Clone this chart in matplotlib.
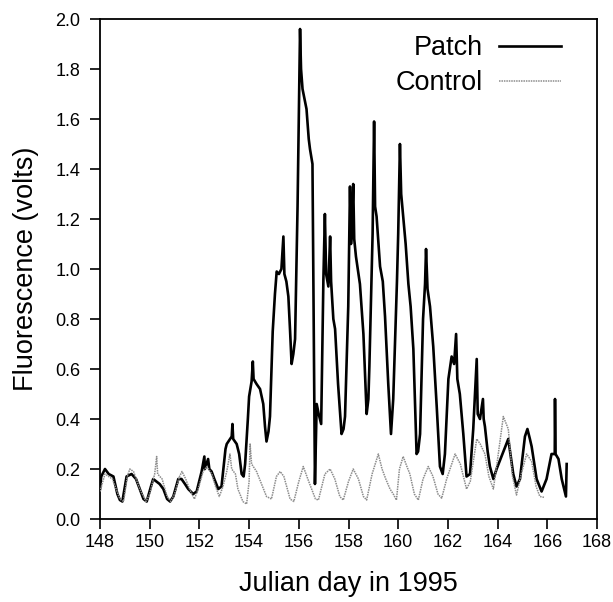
import matplotlib
matplotlib.use("Agg")
import matplotlib.pyplot as plt

plt.rcParams['font.family'] = ['Liberation Sans', 'DejaVu Sans']

# Patch series (Julian day, fluorescence volts)
patch_day = [148.00, 148.05, 148.2, 148.35, 148.54, 148.7, 148.8, 148.9, 149.07, 149.27,
             149.45, 149.6, 149.75, 149.88, 150.05, 150.14, 150.27, 150.4, 150.55, 150.7,
             150.82, 150.95, 151.15, 151.28, 151.42, 151.55, 151.75, 151.89, 152.09, 152.2,
             152.22, 152.35, 152.4, 152.49, 152.6, 152.76, 152.89, 153.05, 153.1, 153.3,
             153.33, 153.36, 153.5, 153.6, 153.7, 153.78, 153.84, 153.95, 154.0, 154.1,
             154.15, 154.18, 154.3, 154.44, 154.57, 154.64, 154.7, 154.78, 154.84, 154.95,
             155.04, 155.11, 155.2, 155.3, 155.38, 155.42, 155.5, 155.58, 155.65, 155.71,
             155.78, 155.85, 155.95, 156.02, 156.05, 156.09, 156.15, 156.25, 156.31, 156.4,
             156.45, 156.55, 156.6, 156.65, 156.72, 156.8, 156.9, 156.99, 157.05, 157.1,
             157.19, 157.26, 157.3, 157.39, 157.46, 157.58, 157.72, 157.8, 157.86, 157.99,
             158.06, 158.1, 158.13, 158.19, 158.23, 158.3, 158.46, 158.6, 158.73, 158.8,
             158.84, 158.97, 159.03, 159.07, 159.13, 159.27, 159.38, 159.47, 159.6, 159.71,
             159.8, 159.95, 160.0, 160.07, 160.12, 160.2, 160.3, 160.41, 160.5, 160.61,
             160.74, 160.8, 160.88, 161.0, 161.08, 161.12, 161.18, 161.28, 161.41, 161.55,
             161.68, 161.79, 161.88, 162.02, 162.15, 162.25, 162.33, 162.38, 162.48, 162.55,
             162.62, 162.75, 162.89, 163.02, 163.16, 163.2, 163.29, 163.41, 163.44, 163.49,
             163.6, 163.69, 163.83, 163.96, 164.43, 164.63, 164.76, 164.9, 165.1, 165.2,
             165.3, 165.37, 165.57, 165.77, 165.97, 166.17, 166.3, 166.31, 166.33, 166.45,
             166.58, 166.75, 166.78]
patch_val = [0.12, 0.17, 0.20, 0.18, 0.17, 0.10, 0.076, 0.07, 0.17, 0.18,
             0.16, 0.12, 0.08, 0.07, 0.13, 0.16, 0.15, 0.14, 0.12, 0.08,
             0.07, 0.09, 0.16, 0.16, 0.14, 0.12, 0.10, 0.11, 0.19, 0.25,
             0.20, 0.24, 0.20, 0.19, 0.16, 0.12, 0.13, 0.28, 0.30, 0.33,
             0.38, 0.32, 0.30, 0.26, 0.18, 0.17, 0.22, 0.40, 0.49, 0.55,
             0.63, 0.56, 0.54, 0.52, 0.46, 0.37, 0.31, 0.35, 0.41, 0.75,
             0.90, 0.99, 0.98, 1.00, 1.13, 0.98, 0.95, 0.89, 0.75, 0.62,
             0.66, 0.72, 1.25, 1.75, 1.96, 1.80, 1.72, 1.67, 1.64, 1.52,
             1.48, 1.42, 0.80, 0.14, 0.46, 0.42, 0.38, 0.96, 1.22, 0.98,
             0.93, 1.13, 0.95, 0.80, 0.76, 0.54, 0.34, 0.36, 0.41, 0.85,
             1.33, 1.10, 1.14, 1.34, 1.12, 1.05, 0.94, 0.74, 0.42, 0.48,
             0.61, 1.14, 1.59, 1.25, 1.21, 1.01, 0.95, 0.81, 0.54, 0.34,
             0.48, 0.95, 1.14, 1.50, 1.30, 1.21, 1.10, 0.94, 0.85, 0.68,
             0.26, 0.27, 0.34, 0.80, 0.94, 1.08, 0.92, 0.85, 0.69, 0.45,
             0.21, 0.18, 0.26, 0.56, 0.65, 0.62, 0.74, 0.56, 0.50, 0.42,
             0.34, 0.17, 0.18, 0.36, 0.64, 0.42, 0.40, 0.48, 0.40, 0.37,
             0.27, 0.21, 0.16, 0.20, 0.32, 0.18, 0.13, 0.16, 0.33, 0.36,
             0.32, 0.29, 0.16, 0.11, 0.16, 0.26, 0.26, 0.48, 0.26, 0.24,
             0.16, 0.09, 0.22]

# Control series
control_day = [148.0, 148.2, 148.5, 148.8, 148.95, 149.1, 149.2, 149.35, 149.6, 149.85,
               150.0, 150.2, 150.28, 150.32, 150.5, 150.7, 150.85, 151.0, 151.2, 151.3,
               151.45, 151.6, 151.8, 151.95, 152.15, 152.3, 152.5, 152.65, 152.8, 152.95,
               153.1, 153.23, 153.3, 153.45, 153.55, 153.75, 153.9, 154.0, 154.04, 154.1,
               154.3, 154.5, 154.7, 154.9, 155.1, 155.25, 155.4, 155.65, 155.8, 156.0,
               156.18, 156.4, 156.67, 156.79, 157.05, 157.26, 157.45, 157.65, 157.79, 158.0,
               158.19, 158.4, 158.6, 158.73, 158.95, 159.2, 159.35, 159.5, 159.67, 159.8,
               159.93, 160.05, 160.2, 160.35, 160.47, 160.65, 160.81, 161.0, 161.21, 161.4,
               161.6, 161.75, 161.95, 162.29, 162.5, 162.75, 162.9, 163.16, 163.3, 163.49,
               163.65, 163.83, 164.0, 164.23, 164.43, 164.6, 164.76, 164.95, 165.17, 165.37,
               165.55, 165.7, 165.9]
control_val = [0.11, 0.18, 0.16, 0.08, 0.07, 0.17, 0.20, 0.19, 0.12, 0.07,
               0.10, 0.18, 0.25, 0.18, 0.16, 0.09, 0.07, 0.10, 0.17, 0.19,
               0.16, 0.12, 0.08, 0.12, 0.19, 0.21, 0.18, 0.13, 0.09, 0.13,
               0.19, 0.26, 0.20, 0.18, 0.12, 0.07, 0.06, 0.15, 0.30, 0.22,
               0.19, 0.14, 0.09, 0.08, 0.17, 0.19, 0.17, 0.08, 0.07, 0.15,
               0.21, 0.15, 0.08, 0.076, 0.18, 0.20, 0.16, 0.09, 0.076, 0.15,
               0.20, 0.16, 0.09, 0.076, 0.18, 0.26, 0.20, 0.16, 0.12, 0.10,
               0.076, 0.20, 0.25, 0.21, 0.18, 0.10, 0.076, 0.16, 0.21, 0.17,
               0.10, 0.083, 0.16, 0.26, 0.22, 0.12, 0.15, 0.32, 0.30, 0.26,
               0.17, 0.12, 0.24, 0.41, 0.36, 0.17, 0.096, 0.18, 0.26, 0.23,
               0.13, 0.09, 0.086]

x_ticks = [148, 150, 152, 154, 156, 158, 160, 162, 164, 166, 168]
y_ticks = [0.0, 0.2, 0.4, 0.6, 0.8, 1.0, 1.2, 1.4, 1.6, 1.8, 2.0]

fig = plt.figure(figsize=(6.13, 6.02), dpi=100)
ax = fig.add_axes([100/613, 83/602, 497/613, 500/602])

ax.plot(patch_day, patch_val, color='black', lw=1.9, label='Patch', zorder=2)
ax.plot(control_day, control_val, color='#8c8c8c', lw=1.1, linestyle=(0, (1, 0.6)),
        label='Control', zorder=3)

ax.set_xlim(148, 168)
ax.set_ylim(0, 2.0)
ax.set_xticks(x_ticks)
ax.set_yticks(y_ticks)
ax.set_xticklabels([str(t) for t in x_ticks])
ax.set_yticklabels([f"{t:.1f}" for t in y_ticks])
ax.tick_params(axis='both', direction='out', length=7, width=1.2, labelsize=13,
               colors='black')
ax.tick_params(axis='x', pad=4)
ax.tick_params(axis='y', pad=7)
for s in ax.spines.values():
    s.set_linewidth(1.3)
    s.set_color('black')

ax.set_xlabel('Julian day in 1995', fontsize=19.5, labelpad=14)
ax.set_ylabel('Fluorescence (volts)', fontsize=19.5, labelpad=12)

leg = ax.legend(loc='upper right', bbox_to_anchor=(0.928, 0.968), frameon=False,
                markerfirst=False, fontsize=19.5, handlelength=2.3, handletextpad=0.6,
                labelspacing=0.35, borderpad=0, borderaxespad=0)

fig.savefig('out.png', dpi=100)
